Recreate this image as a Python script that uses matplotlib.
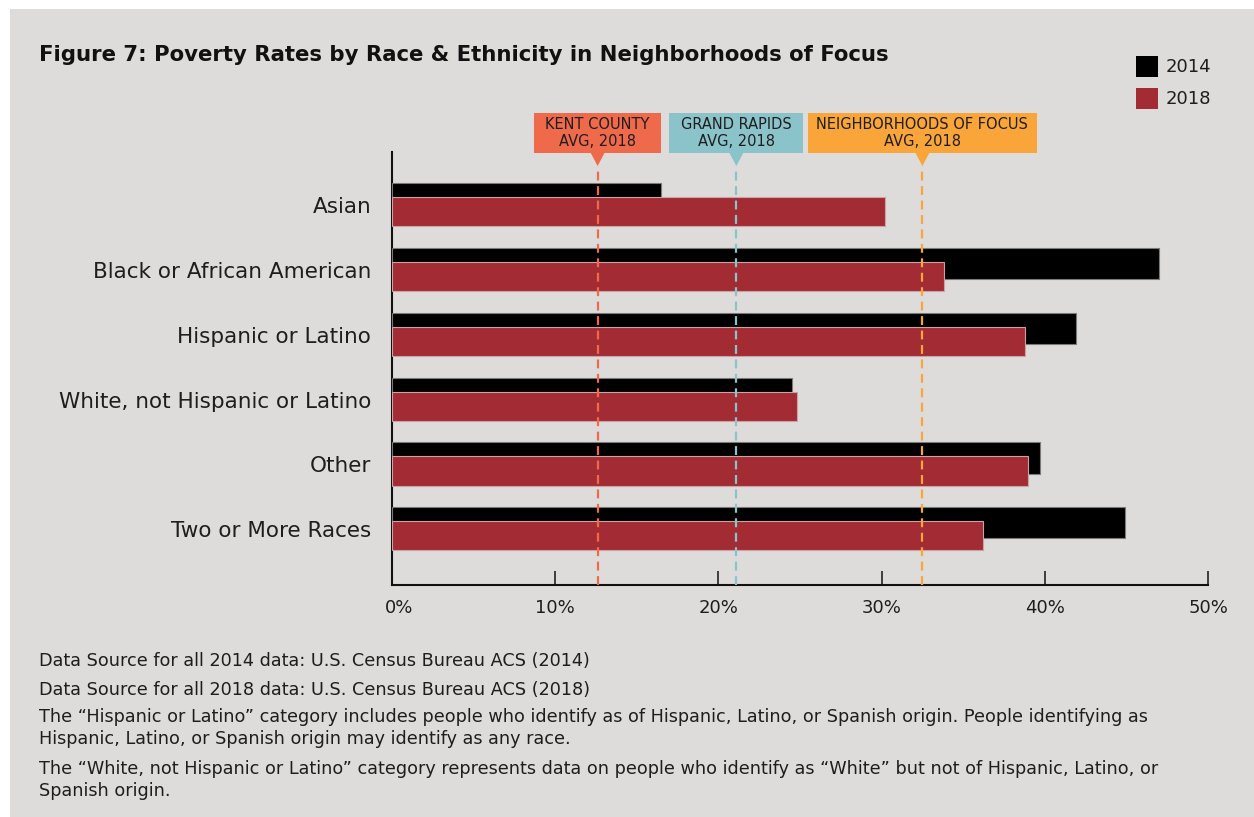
import matplotlib
matplotlib.use("Agg")
import matplotlib.pyplot as plt
import matplotlib.transforms as mtransforms
from matplotlib.patches import Rectangle, Polygon

plt.rcParams['font.family'] = ['DejaVu Sans']

#   data (percent)
categories = ["Asian", "Black or African American", "Hispanic or Latino",
              "White, not Hispanic or Latino", "Other", "Two or More Races"]
rate_2014 = [16.5, 47.0, 41.9, 24.5, 39.7, 44.9]
rate_2018 = [30.2, 33.8, 38.8, 24.8, 39.0, 36.2]

ref_names = ["KENT COUNTY\nAVG, 2018", "GRAND RAPIDS\nAVG, 2018", "NEIGHBORHOODS OF FOCUS\nAVG, 2018"]
ref_values = [12.6, 21.1, 32.5]
ref_colors = ["#ef6a4b", "#8bc3cb", "#f9a53a"]
ref_box_w = [7.8, 8.2, 14.0]

tick_values = [0, 10, 20, 30, 40, 50]
tick_labels = ["0%", "10%", "20%", "30%", "40%", "50%"]

notes = [
    "Data Source for all 2014 data: U.S. Census Bureau ACS (2014)",
    "Data Source for all 2018 data: U.S. Census Bureau ACS (2018)",
    "The \u201cHispanic or Latino\u201d category includes people who identify as of Hispanic, Latino, or Spanish origin. People identifying as\nHispanic, Latino, or Spanish origin may identify as any race.",
    "The \u201cWhite, not Hispanic or Latino\u201d category represents data on people who identify as \u201cWhite\u201d but not of Hispanic, Latino, or\nSpanish origin.",
]
note_y = [661, 690, 728, 780]

BG = "#dddcda"
BLACK = "#000000"
RED = "#a32b33"
TXT = "#1e1e1e"

W, H = 1254, 817
fig = plt.figure(figsize=(W / 100, H / 100), dpi=100, facecolor="white")
# gray panel
fig.patches.append(Rectangle((10 / W, 0), 1 - 10 / W, 1 - 9 / H, transform=fig.transFigure,
                             facecolor=BG, edgecolor="none", zorder=-10))

def fx(px):
    return px / W

def fy(py):
    return 1 - py / H

ax = fig.add_axes([fx(392), fy(585), fx(1208) - fx(392), fy(152) - fy(585)])
ax.set_facecolor(BG)
ax.patch.set_alpha(0)

ypos = list(range(len(categories)))
ax.barh([y - 0.10 for y in ypos], rate_2014, height=0.48, color=BLACK,
        edgecolor="#7a7a7a", linewidth=0.8, zorder=3, label="2014")
ax.barh([y + 0.10 for y in ypos], rate_2018, height=0.45, color=RED,
        edgecolor="#c9a3a5", linewidth=0.8, zorder=4, label="2018")

ax.set_xlim(0, 50)
ax.set_ylim(5.86, -0.82)
ax.set_yticks(ypos)
ax.set_yticklabels(categories, fontsize=15.5, color=TXT)
ax.tick_params(axis="y", length=0, pad=15)
ax.set_xticks(tick_values)
ax.set_xticklabels(tick_labels, fontsize=13, color=TXT)
ax.tick_params(axis="x", direction="in", length=10, width=1.2, color="#222222", pad=10)
first = ax.xaxis.get_majorticklabels()[0]
first.set_transform(first.get_transform() + mtransforms.ScaledTranslation(7 / 100, 0, fig.dpi_scale_trans))

for s in ["top", "right"]:
    ax.spines[s].set_visible(False)
ax.spines["left"].set_linewidth(1.5)
ax.spines["bottom"].set_linewidth(1.5)
ax.spines["left"].set_color("#111111")
ax.spines["bottom"].set_color("#111111")

# reference lines with callout boxes
trans = mtransforms.blended_transform_factory(ax.transData, ax.transAxes)
box_bot = (585 - 153) / 433
box_top = (585 - 113) / 433
tip = (585 - 166) / 433
for name, val, col, bw in zip(ref_names, ref_values, ref_colors, ref_box_w):
    ax.axvline(val, ymin=0, ymax=tip, color=col, linestyle=(0, (4, 2.5)), linewidth=1.6, zorder=5)
    ax.add_patch(Rectangle((val - bw / 2, box_bot), bw, box_top - box_bot, transform=trans,
                           facecolor=col, edgecolor="none", clip_on=False, zorder=6))
    ax.add_patch(Polygon([(val - 0.45, box_bot + 0.002), (val + 0.45, box_bot + 0.002), (val, tip)],
                         closed=True, transform=trans, facecolor=col, edgecolor="none",
                         clip_on=False, zorder=6))
    ax.text(val, (box_bot + box_top) / 2, name, transform=trans, ha="center", va="center",
            fontsize=10.5, color=TXT, linespacing=1.12, zorder=7, clip_on=False)

# title
fig.text(fx(39), fy(55), "Figure 7: Poverty Rates by Race & Ethnicity in Neighborhoods of Focus",
         fontsize=15.3, fontweight="bold", color="#111111", va="center", ha="left")

# legend
for i, (lab, col) in enumerate(zip(["2014", "2018"], [BLACK, RED])):
    y0 = 56 + i * 32
    fig.patches.append(Rectangle((fx(1136), fy(y0 + 21)), fx(22), 21 / H, transform=fig.transFigure,
                                 facecolor=col, edgecolor="none"))
    fig.text(fx(1166), fy(y0 + 11), lab, fontsize=13, color=TXT, va="center", ha="left")

# footnotes
for txt, y in zip(notes, note_y):
    fig.text(fx(39), fy(y), txt, fontsize=12.7, color=TXT, va="center", ha="left", linespacing=1.3)

fig.savefig("out.png", dpi=100, facecolor="white")
